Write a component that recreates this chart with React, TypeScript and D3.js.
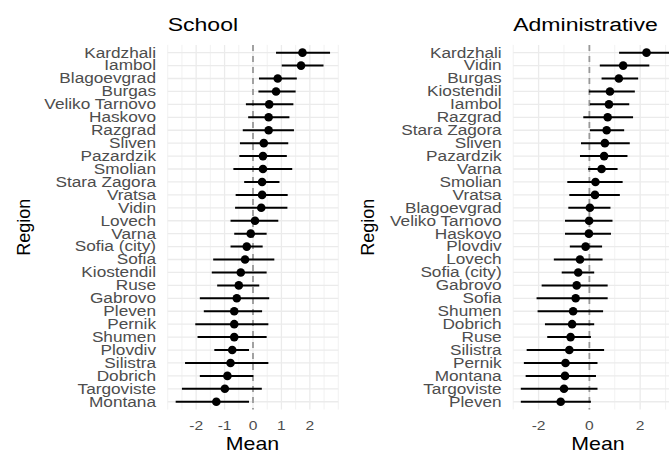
import React from 'react';
import * as d3 from 'd3';

// School panel (top to bottom)
const schoolRegions = [
  'Kardzhali', 'Iambol', 'Blagoevgrad', 'Burgas', 'Veliko Tarnovo', 'Haskovo', 'Razgrad',
  'Sliven', 'Pazardzik', 'Smolian', 'Stara Zagora', 'Vratsa', 'Vidin', 'Lovech', 'Varna',
  'Sofia (city)', 'Sofia', 'Kiostendil', 'Ruse', 'Gabrovo', 'Pleven', 'Pernik', 'Shumen',
  'Plovdiv', 'Silistra', 'Dobrich', 'Targoviste', 'Montana',
];
const schoolMean = [1.74, 1.69, 0.87, 0.81, 0.57, 0.55, 0.55, 0.38, 0.35, 0.35, 0.32, 0.32, 0.29, 0.07, -0.08,
  -0.22, -0.28, -0.43, -0.5, -0.57, -0.66, -0.66, -0.66, -0.73, -0.79, -0.9, -0.99, -1.29];
const schoolLow = [0.81, 1.01, 0.21, 0.19, -0.25, -0.17, -0.36, -0.46, -0.48, -0.69, -0.31, -0.61, -0.63, -0.79, -0.66,
  -0.79, -1.4, -1.45, -1.26, -1.87, -1.73, -2.03, -1.95, -1.36, -2.39, -1.87, -2.5, -2.72];
const schoolHigh = [2.71, 2.48, 1.54, 1.5, 1.42, 1.28, 1.44, 1.24, 1.19, 1.38, 0.93, 1.22, 1.21, 0.89, 0.48,
  0.34, 0.75, 0.48, 0.22, 0.57, 0.32, 0.54, 0.48, -0.14, 0.54, 0.01, 0.31, -0.14];
const schoolTicks = [-2, -1, 0, 1, 2];

// Administrative panel (top to bottom)
const adminRegions = [
  'Kardzhali', 'Vidin', 'Burgas', 'Kiostendil', 'Iambol', 'Razgrad', 'Stara Zagora', 'Sliven',
  'Pazardzik', 'Varna', 'Smolian', 'Vratsa', 'Blagoevgrad', 'Veliko Tarnovo', 'Haskovo',
  'Plovdiv', 'Lovech', 'Sofia (city)', 'Gabrovo', 'Sofia', 'Shumen', 'Dobrich', 'Ruse',
  'Silistra', 'Pernik', 'Montana', 'Targoviste', 'Pleven',
];
const adminMean = [2.25, 1.33, 1.16, 0.81, 0.77, 0.72, 0.68, 0.61, 0.58, 0.48, 0.24, 0.22, 0.02, -0.01, -0.02,
  -0.15, -0.37, -0.44, -0.5, -0.54, -0.64, -0.68, -0.74, -0.79, -0.94, -0.96, -1.0, -1.13];
const adminLow = [1.17, 0.41, 0.48, -0.02, 0.02, -0.24, 0.02, -0.33, -0.37, -0.05, -0.87, -0.79, -0.83, -0.96, -0.96,
  -0.77, -1.4, -1.09, -1.88, -2.08, -2.04, -1.75, -1.66, -2.47, -2.58, -2.51, -2.7, -2.7];
const adminHigh = [3.3, 2.36, 1.92, 1.79, 1.57, 1.72, 1.37, 1.59, 1.5, 1.11, 1.31, 1.2, 0.83, 0.91, 0.85,
  0.5, 0.52, 0.19, 0.72, 0.72, 0.54, 0.19, 0.06, 0.58, 0.32, 0.26, 0.32, 0.06];
const adminTicks = [-2, 0, 2];

const FONT = '"Liberation Sans", Arial, Helvetica, sans-serif';
const SX = 1.23; // horizontal stretch of the reference's text

const panels = [
  {
    title: 'School', regions: schoolRegions, mean: schoolMean, low: schoolLow, high: schoolHigh,
    ticks: schoolTicks, minorStep: 0.5, domain: [-3.0, 3.0], range: [167.7, 338.3],
    labelRight: 156, regionX: 30, meanX: 252.5,
  },
  {
    title: 'Administrative', regions: adminRegions, mean: adminMean, low: adminLow, high: adminHigh,
    ticks: adminTicks, minorStep: 1, domain: [-3.0, 3.6], range: [513.2, 680.8],
    labelRight: 501.7, regionX: 374, meanX: 598,
  },
];

const top = 44.9;
const bottom = 409.5;

function Panel({ p }: { p: typeof panels[number] }) {
  const x = d3.scaleLinear().domain(p.domain).range(p.range);
  const y = d3.scalePoint<string>().domain(p.regions).range([top, bottom]).padding(0.6);
  const step = p.ticks[1] - p.ticks[0];
  const minor = d3.range(p.ticks[0] - step, p.ticks[p.ticks.length - 1] + step + 1e-9, p.minorStep)
    .filter(v => !p.ticks.includes(v) && v >= p.domain[0] - 1e-9 && v <= p.domain[1]);
  const [x0, x1] = p.range;
  return (
    <g>
      {minor.map(v => (
        <line key={'mi' + v} x1={x(v)} x2={x(v)} y1={top} y2={bottom} stroke="#EBEBEB" strokeWidth={0.7} />
      ))}
      {p.ticks.map(v => (
        <line key={'ma' + v} x1={x(v)} x2={x(v)} y1={top} y2={bottom} stroke="#EBEBEB" strokeWidth={1.3} />
      ))}
      {p.regions.map(r => (
        <line key={'h' + r} x1={x0} x2={x1} y1={y(r)} y2={y(r)} stroke="#EBEBEB" strokeWidth={1.3} />
      ))}
      <line x1={x(0)} x2={x(0)} y1={top} y2={bottom} stroke="#999999" strokeWidth={1.8} strokeDasharray="6,5" />
      {p.regions.map((r, i) => (
        <line key={'e' + r} x1={x(p.low[i])} x2={x(p.high[i])} y1={y(r)} y2={y(r)} stroke="#000" strokeWidth={2} />
      ))}
      {p.regions.map((r, i) => (
        <circle key={'c' + r} cx={x(p.mean[i])} cy={y(r)} r={4.3} fill="#000" />
      ))}
      {p.regions.map(r => (
        <text key={'l' + r} transform={`translate(${p.labelRight},${(y(r) ?? 0) + 4.9}) scale(${SX},1)`}
          textAnchor="end" fontSize={14} fill="#4D4D4D">{r}</text>
      ))}
      {p.ticks.map(v => (
        <text key={'t' + v} transform={`translate(${x(v)},429.5) scale(1.3,1)`}
          textAnchor="middle" fontSize={12} fill="#4D4D4D">{v}</text>
      ))}
      <text transform={`translate(${x0},30.7) scale(1.28,1)`} fontSize={18} fill="#000">{p.title}</text>
      <text transform={`translate(${p.meanX},450) scale(1.22,1)`}
        textAnchor="middle" fontSize={17.5} fill="#000">Mean</text>
      <text transform={`translate(${p.regionX},${(top + bottom) / 2}) rotate(-90)`}
        textAnchor="middle" fontSize={18} fill="#000">Region</text>
    </g>
  );
}

export default function App() {
  return (
    <svg width={669} height={450} style={{ position: 'absolute', left: 0, top: 0, background: '#fff' }}
      fontFamily={FONT}>
      <rect width={669} height={450} fill="#fff" />
      {panels.map(p => <Panel key={p.title} p={p} />)}
    </svg>
  );
}
